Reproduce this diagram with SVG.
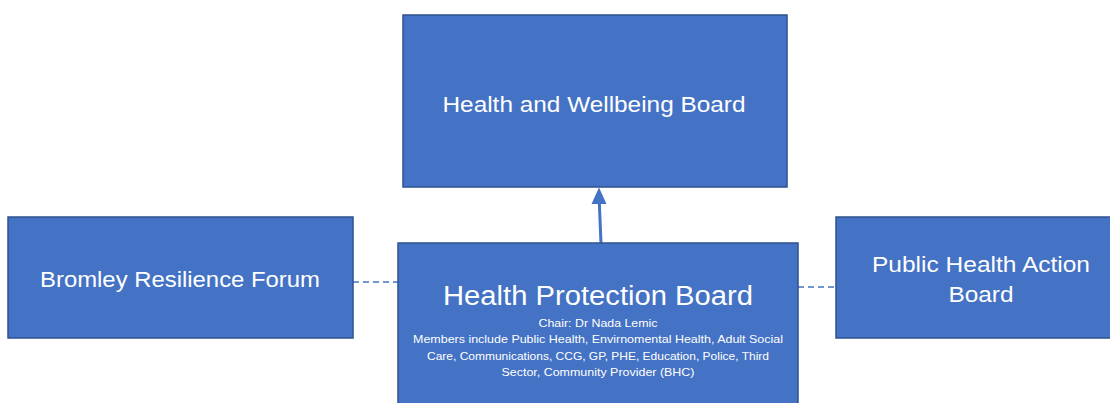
<svg xmlns="http://www.w3.org/2000/svg" width="1110" height="403" viewBox="0 0 1110 403">
<defs>
<style>
.box{fill:#4472C4;stroke:#2F528F;stroke-width:1.5}
.t{fill:#FFFFFF;font-family:"Liberation Sans",Arial,sans-serif;text-anchor:middle}
.big{font-size:22px}
.huge{font-size:27px}
.small{font-size:10.5px}
.dash{stroke:#4472C4;stroke-width:1.3;stroke-dasharray:6 4;fill:none}
.arr{stroke:#4472C4;stroke-width:3;fill:none}
</style>
<marker id="ah" markerWidth="6" markerHeight="6" refX="5" refY="3" orient="auto" markerUnits="strokeWidth">
<path d="M0,0 L6,3 L0,6 z" fill="#4472C4"/>
</marker>
</defs>
<rect width="1110" height="403" fill="#FFFFFF"/>
<g id="connectors">
<line class="dash" x1="353" y1="282" x2="398" y2="282"/>
<line class="dash" x1="798" y1="287" x2="836" y2="287"/>
<line class="arr" x1="601" y1="243" x2="599.3" y2="203"/>
<path d="M591.5,204 L599,187.5 L606.5,204 z" fill="#4472C4"/>
</g>
<g id="hwb">
<rect class="box" x="403" y="15" width="384" height="172"/>
<text class="t big" x="594" y="112" textLength="303" lengthAdjust="spacingAndGlyphs">Health and Wellbeing Board</text>
</g>
<g id="brf">
<rect class="box" x="8" y="217" width="345" height="121"/>
<text class="t big" x="180" y="287" textLength="280" lengthAdjust="spacingAndGlyphs">Bromley Resilience Forum</text>
</g>
<g id="phab">
<rect class="box" x="836" y="217" width="280" height="121"/>
<text class="t big" x="981" y="272" textLength="218" lengthAdjust="spacingAndGlyphs">Public Health Action</text>
<text class="t big" x="981" y="302" textLength="65" lengthAdjust="spacingAndGlyphs">Board</text>
</g>
<g id="hpb">
<rect class="box" x="398" y="243" width="400" height="170"/>
<text class="t huge" x="598" y="305" textLength="310" lengthAdjust="spacingAndGlyphs">Health Protection Board</text>
<text class="t small" x="598" y="327" textLength="119" lengthAdjust="spacingAndGlyphs">Chair: Dr Nada Lemic</text>
<text class="t small" x="598" y="343" textLength="370" lengthAdjust="spacingAndGlyphs">Members include Public Health, Envirnomental Health, Adult Social</text>
<text class="t small" x="598" y="360" textLength="342" lengthAdjust="spacingAndGlyphs">Care, Communications, CCG, GP, PHE, Education, Police, Third</text>
<text class="t small" x="598" y="376" textLength="193" lengthAdjust="spacingAndGlyphs">Sector, Community Provider (BHC)</text>
</g>
</svg>
